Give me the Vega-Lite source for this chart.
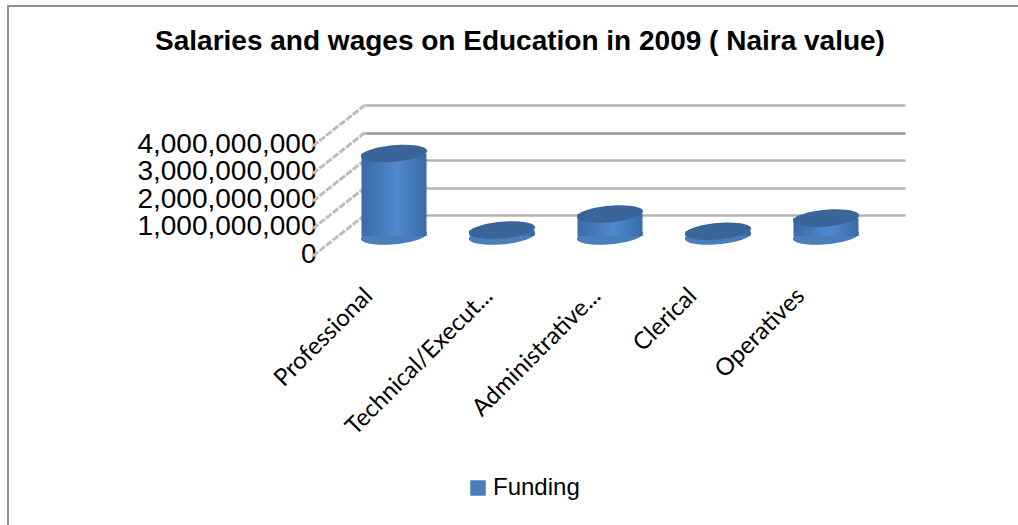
{"$schema":"https://vega.github.io/schema/vega-lite/v6.json","width":540,"height":110,"autosize":{"type":"none"},"padding":{"left":365,"top":105,"right":113,"bottom":310},"background":"white","datasets":{"funding":[{"category":"Professional","value":3000000000,"base":0,"series":"Funding"},{"category":"Technical/Execut...","value":220000000,"base":0,"series":"Funding"},{"category":"Administrative...","value":800000000,"base":0,"series":"Funding"},{"category":"Clerical","value":170000000,"base":0,"series":"Funding"},{"category":"Operatives","value":650000000,"base":0,"series":"Funding"}],"walls":[{"level":0,"front":-1490000000},{"level":1000000000,"front":-490000000},{"level":2000000000,"front":510000000},{"level":3000000000,"front":1510000000},{"level":4000000000,"front":2510000000}]},"title":{"text":"Salaries and wages on Education  in 2009 ( Naira value)","font":"Liberation Sans","fontSize":28,"fontWeight":"bold","color":"#000000","anchor":"middle","frame":"group","dx":-115,"offset":-51},"layer":[{"data":{"name":"walls"},"mark":{"type":"rule","stroke":"#bdbdbd","strokeWidth":3,"strokeDash":[7,1.5],"clip":false},"encoding":{"x":{"datum":0,"type":"quantitative","scale":{"domain":[0,1]},"axis":null},"x2":{"datum":-0.0963},"y":{"field":"level","type":"quantitative","scale":{"domain":[0,4000000000]},"axis":{"tickCount":4,"title":null,"format":",d","grid":true,"gridColor":{"condition":{"test":"datum.value===3000000000","value":"#969696"},"value":"#b4b4b4"},"gridWidth":2.5,"domain":false,"ticks":false,"labelFont":"Liberation Sans","labelFontSize":28,"labelColor":"#000000","labelPadding":49,"labelOffset":39,"labelOverlap":false,"labelBound":false,"labelFlush":false}},"y2":{"field":"front"}}},{"data":{"name":"funding"},"mark":{"type":"point","filled":true,"opacity":1,"shape":"M-1,0.06A1,0.25 -5 1 1 1,-0.06A1,0.25 -5 1 1 -1,0.06Z","size":4356,"xOffset":-25,"yOffset":21},"encoding":{"x":{"field":"category","type":"nominal","sort":null,"scale":{"type":"band","paddingInner":0,"paddingOuter":0},"axis":{"title":null,"domain":false,"ticks":false,"grid":false,"labelAngle":-45,"labelAlign":"right","labelBaseline":"middle","labelFont":"Lato","labelFontSize":24,"labelColor":"#000000","labelPadding":77,"labelOffset":{"condition":{"test":"indexof(datum.value,'...')>=0","value":-38},"value":-50},"labelOverlap":false,"labelLimit":400}},"y":{"field":"base","type":"quantitative"},"color":{"field":"series","type":"nominal","scale":{"range":["#4a7dba"]},"legend":{"title":null,"orient":"none","legendX":101,"legendY":371,"symbolType":"square","symbolSize":240,"symbolStrokeWidth":0,"labelFont":"Liberation Sans","labelFontSize":24,"labelColor":"#000000","labelOffset":3}}}},{"data":{"name":"funding"},"mark":{"type":"bar","width":65,"xOffset":-25,"yOffset":21,"y2Offset":21,"color":{"gradient":"linear","x1":0,"x2":1,"y1":0,"y2":0,"stops":[{"offset":0,"color":"#386aa5"},{"offset":0.55,"color":"#5089d0"},{"offset":1,"color":"#386aa5"}]}},"encoding":{"x":{"field":"category","type":"nominal","sort":null,"scale":{"type":"band","paddingInner":0,"paddingOuter":0},"axis":null},"y":{"field":"value","type":"quantitative"},"y2":{"field":"base"}}},{"data":{"name":"funding"},"mark":{"type":"point","filled":true,"opacity":1,"fill":"#39659a","shape":"M-1,0.06A1,0.25 -5 1 1 1,-0.06A1,0.25 -5 1 1 -1,0.06Z","size":4356,"xOffset":-25,"yOffset":21},"encoding":{"x":{"field":"category","type":"nominal","sort":null,"scale":{"type":"band","paddingInner":0,"paddingOuter":0},"axis":null},"y":{"field":"value","type":"quantitative"}}},{"data":{"values":[{"frame":"top"}]},"mark":{"type":"rule","stroke":"#909090","strokeWidth":2,"clip":false},"encoding":{"x":{"value":-358},"x2":{"value":653},"y":{"value":-99}}},{"data":{"values":[{"frame":"left"}]},"mark":{"type":"rule","stroke":"#909090","strokeWidth":2,"clip":false},"encoding":{"x":{"value":-357},"y":{"value":-99},"y2":{"value":420}}}],"resolve":{"scale":{"x":"independent","color":"independent"},"axis":{"x":"independent"}},"config":{"view":{"stroke":null},"axisY":{"tickCount":4}}}
